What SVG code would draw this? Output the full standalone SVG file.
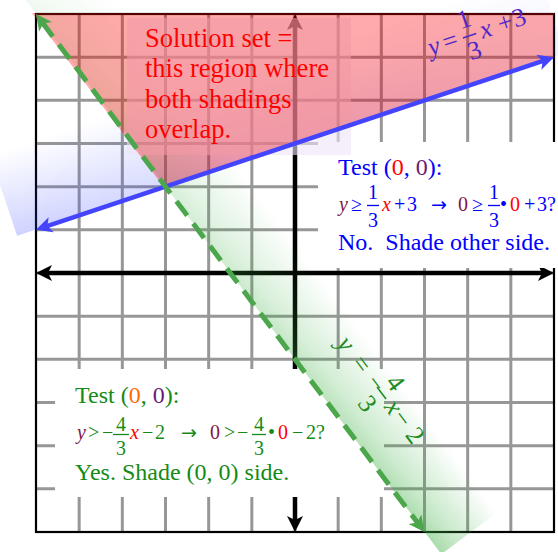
<svg xmlns="http://www.w3.org/2000/svg" width="558" height="552" viewBox="0 0 558 552">
<defs>
<style>
.grid line{stroke:#979797;stroke-width:3}
.t{font-family:"Liberation Serif","DejaVu Serif",serif}
.big{font-size:24px}
.eq{font-size:20px}
.lab{font-size:26px}
.it{font-style:italic}
.arr{font-family:"DejaVu Sans",sans-serif;font-size:19px}
.b{fill:#0000ff}.r{fill:#ff0000}.m{fill:#801848}.p{fill:#6a1a78}.g{fill:#168a16}.o{fill:#ff6a00}
.bar{stroke-width:1.3}
</style>
<marker id="ak" markerUnits="userSpaceOnUse" viewBox="-1 -10 20 20" markerWidth="20" markerHeight="20" refX="6" refY="0" orient="auto-start-reverse"><path d="M16,0 L0,-8 L4,0 L0,8 Z" fill="#000"/></marker>
<marker id="ab" markerUnits="userSpaceOnUse" viewBox="-1 -10 20 20" markerWidth="20" markerHeight="20" refX="6" refY="0" orient="auto-start-reverse"><path d="M16,0 L0,-8 L4,0 L0,8 Z" fill="#4444ff"/></marker>
<marker id="ag" markerUnits="userSpaceOnUse" viewBox="-1 -10 20 20" markerWidth="20" markerHeight="20" refX="6" refY="0" orient="auto-start-reverse"><path d="M16,0 L0,-8 L4,0 L0,8 Z" fill="#4ca64c"/></marker>
<linearGradient id="gperp" gradientUnits="userSpaceOnUse" x1="36" y1="14" x2="92" y2="-28">
<stop offset="0" stop-color="#3cb043" stop-opacity="0.45"/>
<stop offset="0.25" stop-color="#3cb043" stop-opacity="0.3"/>
<stop offset="1" stop-color="#3cb043" stop-opacity="0"/>
</linearGradient>
<linearGradient id="galong" gradientUnits="userSpaceOnUse" x1="18" y1="-10" x2="441" y2="554">
<stop offset="0" stop-color="#fff" stop-opacity="0.15"/>
<stop offset="1" stop-color="#fff" stop-opacity="1"/>
</linearGradient>
<mask id="gmask"><polygon points="18,-10 441.3,554.4 497.3,512.4 74,-52" fill="url(#galong)"/></mask>
<linearGradient id="bperp" gradientUnits="userSpaceOnUse" x1="36" y1="229.8" x2="9.1" y2="149.2">
<stop offset="0" stop-color="#3344ff" stop-opacity="0.24"/>
<stop offset="1" stop-color="#3344ff" stop-opacity="0"/>
</linearGradient>
<linearGradient id="balong" gradientUnits="userSpaceOnUse" x1="17" y1="236" x2="565" y2="53">
<stop offset="0" stop-color="#fff" stop-opacity="1"/>
<stop offset="1" stop-color="#fff" stop-opacity="0.3"/>
</linearGradient>
<mask id="bmask"><polygon points="17,236.1 565.4,53.4 538.5,-27.2 -9.9,155.5" fill="url(#balong)"/></mask>
</defs>
<rect width="558" height="552" fill="#fff"/>
<g id="grid" class="grid">
<line x1="79.17" y1="14" x2="79.17" y2="532"/>
<line x1="122.33" y1="14" x2="122.33" y2="532"/>
<line x1="165.5" y1="14" x2="165.5" y2="532"/>
<line x1="208.67" y1="14" x2="208.67" y2="532"/>
<line x1="251.83" y1="14" x2="251.83" y2="532"/>
<line x1="295" y1="14" x2="295" y2="532"/>
<line x1="338.17" y1="14" x2="338.17" y2="532"/>
<line x1="381.33" y1="14" x2="381.33" y2="532"/>
<line x1="424.5" y1="14" x2="424.5" y2="532"/>
<line x1="467.67" y1="14" x2="467.67" y2="532"/>
<line x1="510.83" y1="14" x2="510.83" y2="532"/>
<line x1="36" y1="57.17" x2="554" y2="57.17"/>
<line x1="36" y1="100.33" x2="554" y2="100.33"/>
<line x1="36" y1="143.5" x2="554" y2="143.5"/>
<line x1="36" y1="186.67" x2="554" y2="186.67"/>
<line x1="36" y1="229.83" x2="554" y2="229.83"/>
<line x1="36" y1="273" x2="554" y2="273"/>
<line x1="36" y1="316.17" x2="554" y2="316.17"/>
<line x1="36" y1="359.33" x2="554" y2="359.33"/>
<line x1="36" y1="402.5" x2="554" y2="402.5"/>
<line x1="36" y1="445.67" x2="554" y2="445.67"/>
<line x1="36" y1="488.83" x2="554" y2="488.83"/>
</g>
<rect id="border" x="36" y="14" width="518" height="518" fill="none" stroke="#000" stroke-width="2.2"/>
<g id="axes">
<line x1="46" y1="273" x2="544" y2="273" stroke="#000" stroke-width="4.5" marker-start="url(#ak)" marker-end="url(#ak)"/>
<line x1="295" y1="24" x2="295" y2="522" stroke="#000" stroke-width="4.5" marker-start="url(#ak)" marker-end="url(#ak)"/>
</g>
<rect x="318" y="142" width="240" height="126" fill="#fff"/>
<rect x="55" y="369" width="329" height="128" fill="#fff"/>
<g id="shading">
<polygon points="18,-10 441.3,554.4 497.3,512.4 74,-52" fill="url(#gperp)" mask="url(#gmask)"/>
<polygon points="17,236.1 565.4,53.4 538.5,-27.2 -9.9,155.5" fill="url(#bperp)" mask="url(#bmask)"/>
<rect x="127" y="18" width="224" height="137" fill="#ece4f7" opacity="0.6"/>
<polygon id="solution-region" points="32,13 554,13 554,57.2 164,187.2" fill="#ff0000" fill-opacity="0.33"/>
</g>
<g id="connectors">
<line x1="45.49" y1="226.64" x2="544.51" y2="60.36" stroke="#4444ff" stroke-width="4.5" marker-start="url(#ab)" marker-end="url(#ab)"/>
<line x1="42" y1="22" x2="418.5" y2="524" stroke="#4ca64c" stroke-width="5" stroke-dasharray="18 10" marker-start="url(#ag)" marker-end="url(#ag)"/>
</g>
<g id="solution-text" class="t r" font-size="26.5" style="white-space:pre">
<text x="145" y="47">Solution set  =</text>
<text x="145" y="77">this region where</text>
<text x="145" y="108">both shadings</text>
<text x="145" y="138">overlap.</text>
</g>
<g id="label-blue-line" class="t lab" fill="#5028c8" transform="translate(431,56) rotate(-18.43)">
<text y="0"><tspan x="0" class="it">y</tspan><tspan x="15.5">=</tspan><tspan x="54.5" class="it">x</tspan><tspan x="73.5">+</tspan><tspan x="89">3</tspan></text>
<text x="43" y="-16" text-anchor="middle">1</text>
<text x="43" y="17" text-anchor="middle">3</text>
<line x1="36" y1="-7" x2="50" y2="-7" stroke="#5028c8" stroke-width="1.5"/>
</g>
<g id="label-green-line" class="t lab" fill="#228b22" transform="translate(336,344) rotate(53.13)">
<text y="0"><tspan x="0" class="it">y</tspan><tspan x="24">=</tspan><tspan x="48">−</tspan><tspan x="79" class="it">x</tspan><tspan x="92">−</tspan><tspan x="114">2</tspan></text>
<text x="66.5" y="-16" text-anchor="middle">4</text>
<text x="66.5" y="19" text-anchor="middle">3</text>
<line x1="59" y1="-7" x2="74" y2="-7" stroke="#228b22" stroke-width="1.5"/>
</g>
<g id="test-blue" class="t">
<text class="big" x="338" y="175"><tspan class="b">Test (</tspan><tspan class="r">0</tspan><tspan class="b">, </tspan><tspan class="p">0</tspan><tspan class="b">):</tspan></text>
<text class="eq" y="211"><tspan x="339" class="m it">y</tspan><tspan x="351" class="b">≥</tspan><tspan x="382" class="r it">x</tspan><tspan x="394" class="b">+</tspan><tspan x="407" class="b">3</tspan><tspan x="431" class="b arr">→</tspan><tspan x="458" class="m">0</tspan><tspan x="472" class="b">≥</tspan><tspan x="500" class="b">•</tspan><tspan x="510" class="r">0</tspan><tspan x="524" class="b">+</tspan><tspan x="537" class="b">3?</tspan></text>
<g class="eq b" text-anchor="middle">
<text x="373" y="199">1</text><text x="373" y="227">3</text>
<text x="494" y="199">1</text><text x="494" y="227">3</text>
</g>
<line class="bar" x1="367" y1="205.5" x2="379" y2="205.5" stroke="#0000ff"/>
<line class="bar" x1="488" y1="205.5" x2="500" y2="205.5" stroke="#0000ff"/>
<text class="big b" x="338" y="250" style="white-space:pre">No.  Shade other side.</text>
</g>
<g id="test-green" class="t">
<text class="big" x="75" y="403"><tspan class="g">Test (</tspan><tspan class="o">0</tspan><tspan class="g">, </tspan><tspan class="p">0</tspan><tspan class="g">):</tspan></text>
<text class="eq" y="439"><tspan x="77" class="m it">y</tspan><tspan x="88" class="g">&gt;</tspan><tspan x="102" class="g">−</tspan><tspan x="130" class="r it">x</tspan><tspan x="142" class="g">−</tspan><tspan x="155" class="g">2</tspan><tspan x="181" class="g arr">→</tspan><tspan x="210" class="m">0</tspan><tspan x="224" class="g">&gt;</tspan><tspan x="237" class="g">−</tspan><tspan x="268" class="g">•</tspan><tspan x="278" class="r">0</tspan><tspan x="292" class="g">−</tspan><tspan x="306" class="g">2?</tspan></text>
<g class="eq g" text-anchor="middle">
<text x="121" y="431">4</text><text x="121" y="455">3</text>
<text x="259" y="431">4</text><text x="259" y="455">3</text>
</g>
<line class="bar" x1="113" y1="434.5" x2="129" y2="434.5" stroke="#168a16"/>
<line class="bar" x1="252" y1="434.5" x2="266" y2="434.5" stroke="#168a16"/>
<text class="big g" x="75" y="480">Yes. Shade (0, 0) side.</text>
</g>
</svg>
